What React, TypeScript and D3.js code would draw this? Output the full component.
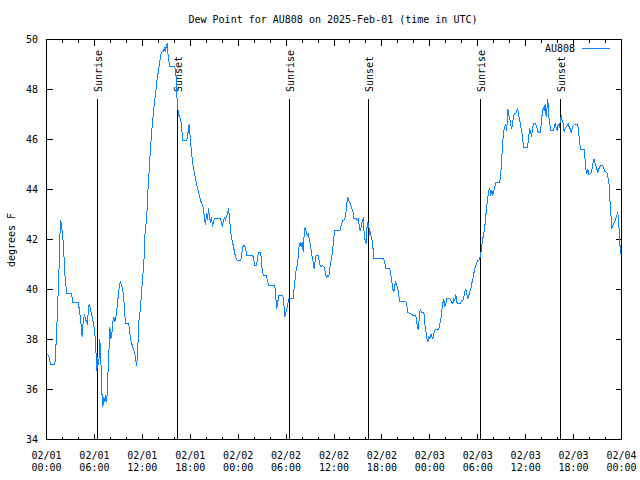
import React from 'react';
import * as d3 from 'd3';

const TITLE = 'Dew Point for AU808 on 2025-Feb-01 (time in UTC)';
const Y_LABEL = 'degrees F';
const SERIES_NAME = 'AU808';
const START_MS = Date.UTC(2025, 1, 1, 0, 0);
const SPAN_HOURS = 72;
const yDomain: [number, number] = [34, 50];
const yTickValues = [34, 36, 38, 40, 42, 44, 46, 48, 50];

const sunEvents: { label: string; hour: number }[] = [
  { label: 'Sunrise', hour: 6.43 },
  { label: 'Sunset', hour: 16.35 },
  { label: 'Sunrise', hour: 30.45 },
  { label: 'Sunset', hour: 40.37 },
  { label: 'Sunrise', hour: 54.4 },
  { label: 'Sunset', hour: 64.4 },
];

// [hours since 2025-02-01 00:00 UTC, dew point °F]
const readings: [number, number][] = [
  [0.1, 37.4], [0.29, 37.33], [0.5, 37.0], [1.04, 37.0], [1.13, 37.36], [1.25, 38.2], [1.38, 39.16],
  [1.47, 40.0], [1.59, 41.0], [1.67, 42.16], [1.79, 42.76], [1.97, 42.3], [2.13, 41.76], [2.29, 40.64],
  [2.42, 40.16], [2.54, 39.83], [3.13, 39.83], [3.29, 39.5], [3.97, 39.5], [4.09, 39.24], [4.22, 38.9],
  [4.35, 38.56], [4.47, 38.1], [4.6, 38.76], [4.76, 39.0], [4.88, 38.8], [5.13, 38.64], [5.26, 39.3],
  [5.38, 39.43], [5.51, 39.2], [5.72, 38.9], [5.92, 38.56], [6.14, 37.96], [6.22, 37.3], [6.3, 36.76],
  [6.42, 37.3], [6.55, 37.0], [6.67, 38.03], [6.8, 37.3], [6.92, 35.96], [7.05, 35.3], [7.18, 35.7],
  [7.3, 35.5], [7.43, 35.76], [7.55, 35.5], [7.68, 36.56], [7.8, 37.36], [7.93, 38.5], [8.05, 38.03],
  [8.18, 38.2], [8.3, 38.7], [8.43, 38.9], [8.55, 38.7], [8.68, 38.9], [8.8, 39.16], [8.93, 39.56],
  [9.05, 39.96], [9.23, 40.3], [9.39, 40.16], [9.55, 40.0], [9.68, 39.63], [9.8, 39.03], [9.89, 38.63],
  [10.31, 38.63], [10.43, 38.23], [10.61, 37.9], [10.81, 37.7], [10.98, 37.5], [11.14, 37.3], [11.27, 36.96],
  [11.39, 37.3], [11.56, 38.7], [11.73, 39.16], [11.86, 39.7], [11.98, 40.23], [12.11, 40.76], [12.23, 41.3],
  [12.31, 42.12], [12.43, 42.52], [12.56, 42.92], [12.68, 43.85], [12.81, 44.52], [12.93, 45.19], [13.06, 45.85],
  [13.19, 46.39], [13.31, 46.79], [13.44, 47.25], [13.56, 47.59], [13.69, 47.92], [13.81, 48.32], [13.94, 48.59],
  [14.06, 48.85], [14.19, 49.12], [14.31, 49.39], [14.49, 49.52], [14.61, 49.52], [14.74, 49.65], [14.86, 49.52],
  [14.99, 49.72], [15.11, 49.85], [15.19, 49.5], [15.31, 49.19], [15.4, 48.92], [16.07, 48.92], [16.15, 48.65],
  [16.24, 48.5], [16.32, 47.85], [16.37, 47.45], [16.53, 46.99], [16.69, 46.9], [16.87, 46.65], [17.0, 46.19],
  [17.07, 45.96], [17.57, 45.96], [17.69, 46.19], [17.78, 46.45], [17.87, 46.63], [17.94, 46.3], [18.03, 45.9],
  [18.16, 45.52], [18.28, 45.12], [18.41, 44.85], [18.53, 44.65], [18.66, 44.45], [18.78, 44.25], [18.91, 44.05],
  [19.03, 43.92], [19.16, 43.72], [19.28, 43.59], [19.41, 43.45], [19.53, 43.4], [19.66, 43.19], [19.78, 42.85],
  [19.91, 42.59], [20.03, 43.05], [20.16, 42.8], [20.29, 43.25], [20.41, 42.85], [20.54, 42.72], [20.66, 42.9],
  [20.79, 42.52], [20.91, 42.72], [21.04, 42.85], [21.79, 42.85], [21.91, 42.65], [22.04, 42.52], [22.17, 42.79],
  [22.29, 42.85], [22.41, 42.79], [22.54, 42.92], [22.67, 43.05], [22.79, 43.25], [23.0, 42.56], [23.13, 42.16],
  [23.25, 41.96], [23.42, 41.7], [23.58, 41.43], [23.76, 41.23], [23.88, 41.16], [24.33, 41.16], [24.51, 41.56],
  [24.63, 41.76], [24.83, 41.74], [25.01, 41.5], [25.08, 41.36], [25.83, 41.36], [26.01, 41.1], [26.08, 40.96],
  [26.3, 40.96], [26.42, 41.23], [26.55, 41.5], [26.8, 41.5], [26.92, 41.16], [27.01, 40.76], [27.17, 40.56],
  [27.51, 40.56], [27.67, 40.36], [27.8, 40.16], [28.59, 40.16], [28.71, 39.7], [28.84, 39.23], [28.96, 39.5],
  [29.09, 39.76], [29.59, 39.76], [29.72, 39.43], [29.84, 38.89], [29.97, 39.09], [30.09, 39.23], [30.22, 39.43],
  [30.34, 39.63], [30.89, 39.63], [31.02, 40.1], [31.14, 40.43], [31.27, 40.83], [31.39, 40.96], [31.52, 41.3],
  [31.64, 41.76], [31.77, 41.9], [31.89, 41.7], [32.02, 41.9], [32.14, 41.5], [32.27, 42.23], [32.39, 42.5],
  [32.52, 42.3], [32.64, 42.16], [32.77, 42.23], [32.89, 42.03], [33.02, 41.83], [33.14, 41.56], [33.27, 41.3],
  [33.39, 41.1], [33.52, 40.83], [33.64, 41.16], [33.77, 41.36], [34.02, 41.36], [34.14, 41.16], [34.27, 40.96],
  [34.4, 40.9], [34.52, 40.96], [34.77, 40.9], [34.97, 40.56], [35.1, 40.47], [35.22, 40.56], [35.35, 40.5],
  [35.47, 40.83], [35.6, 41.1], [35.72, 41.3], [35.85, 41.63], [35.98, 42.1], [36.1, 42.36], [36.73, 42.36],
  [36.85, 42.5], [36.98, 42.63], [37.1, 42.76], [37.23, 42.76], [37.35, 42.83], [37.48, 43.03], [37.6, 43.43],
  [37.73, 43.69], [37.85, 43.56], [37.98, 43.49], [38.1, 43.36], [38.23, 43.23], [38.36, 43.16], [38.48, 42.83],
  [38.82, 42.83], [38.91, 42.76], [39.03, 42.83], [39.16, 42.56], [39.28, 42.36], [39.41, 42.5], [39.53, 42.76],
  [39.66, 42.83], [39.73, 42.5], [39.82, 42.03], [39.95, 41.96], [40.03, 41.83], [40.11, 42.43], [40.24, 42.69],
  [40.36, 42.56], [40.45, 42.23], [40.57, 42.3], [40.66, 42.1], [40.79, 41.96], [40.91, 41.56], [40.99, 41.23],
  [42.24, 41.23], [42.37, 41.03], [42.49, 40.83], [42.99, 40.83], [43.11, 40.63], [43.24, 40.3], [43.36, 40.03],
  [43.49, 39.9], [43.61, 40.17], [43.74, 40.3], [43.86, 40.17], [43.99, 40.03], [44.11, 39.76], [44.24, 39.53],
  [44.99, 39.53], [45.12, 39.36], [45.24, 39.09], [45.45, 39.05], [45.71, 39.0], [45.92, 38.96], [46.17, 38.96],
  [46.29, 38.9], [46.42, 38.56], [46.54, 38.39], [46.67, 38.8], [46.79, 39.23], [46.96, 39.1], [47.25, 39.1],
  [47.37, 38.63], [47.5, 38.36], [47.62, 38.03], [47.75, 37.93], [47.87, 38.1], [48.0, 38.03], [48.12, 38.23],
  [48.25, 38.1], [48.37, 38.03], [48.5, 38.23], [48.62, 38.36], [48.75, 38.41], [49.12, 38.41], [49.25, 38.63],
  [49.37, 38.76], [49.5, 39.16], [49.62, 39.43], [49.75, 39.63], [49.87, 39.29], [50.0, 39.43], [50.12, 39.63],
  [50.5, 39.63], [50.62, 39.56], [50.75, 39.5], [50.87, 39.43], [51.0, 39.63], [51.12, 39.56], [51.25, 39.83],
  [51.37, 39.49], [51.5, 39.43], [51.75, 39.43], [51.87, 39.49], [52.0, 39.56], [52.12, 39.56], [52.25, 39.69],
  [52.37, 39.89], [52.5, 40.03], [52.62, 39.83], [52.75, 39.63], [52.87, 39.76], [53.0, 39.89], [53.13, 40.03],
  [53.25, 40.23], [53.38, 40.43], [53.5, 40.63], [53.63, 40.83], [53.75, 40.96], [53.88, 41.1], [54.0, 41.16],
  [54.13, 41.16], [54.25, 41.23], [54.38, 41.43], [54.5, 41.76], [54.63, 42.03], [54.75, 42.23], [54.88, 42.49],
  [55.01, 42.96], [55.13, 43.36], [55.26, 43.69], [55.38, 43.96], [55.51, 44.03], [55.63, 43.76], [55.76, 43.96],
  [55.88, 43.76], [56.01, 43.96], [56.13, 44.09], [56.26, 44.29], [56.76, 44.29], [56.88, 44.63], [57.01, 45.29],
  [57.13, 45.89], [57.26, 46.36], [57.38, 46.5], [57.51, 46.63], [57.63, 46.36], [57.76, 47.23], [57.88, 46.96],
  [58.01, 46.83], [58.13, 46.56], [58.26, 46.43], [58.38, 46.7], [58.51, 46.96], [58.63, 47.03], [58.76, 47.03],
  [58.88, 47.13], [59.01, 47.23], [59.13, 46.96], [59.26, 46.76], [59.34, 46.63], [59.47, 46.36], [59.6, 46.16],
  [59.72, 45.69], [60.22, 45.69], [60.35, 45.96], [60.47, 46.43], [60.6, 46.36], [60.73, 46.09], [60.85, 46.43],
  [60.98, 46.63], [61.23, 46.63], [61.35, 46.56], [61.48, 46.36], [61.6, 46.29], [61.82, 46.29], [61.95, 46.63],
  [62.07, 47.03], [62.2, 47.29], [62.32, 47.16], [62.45, 47.43], [62.57, 46.9], [62.7, 47.36], [62.77, 47.63],
  [62.9, 46.9], [63.02, 46.63], [63.15, 46.36], [63.45, 46.36], [63.57, 46.5], [63.7, 46.63], [63.82, 46.47],
  [63.95, 46.36], [64.07, 46.63], [64.2, 46.5], [64.32, 46.69], [64.45, 46.96], [64.57, 46.76], [64.7, 46.63],
  [64.82, 46.29], [64.95, 46.43], [65.07, 46.5], [65.2, 46.56], [65.32, 46.63], [65.45, 46.5], [65.57, 46.43],
  [65.7, 46.29], [65.82, 46.43], [65.95, 46.56], [66.07, 46.59], [66.53, 46.59], [66.65, 46.23], [66.78, 45.83],
  [66.9, 45.59], [67.33, 45.59], [67.41, 45.29], [67.53, 44.83], [67.66, 44.63], [67.78, 44.83], [67.91, 44.6],
  [68.16, 44.63], [68.28, 44.76], [68.41, 45.03], [68.53, 45.23], [68.66, 45.1], [68.78, 44.96], [68.91, 44.83],
  [69.03, 44.69], [69.16, 44.83], [69.28, 44.9], [69.41, 44.96], [69.66, 44.96], [69.78, 44.83], [69.91, 44.73],
  [70.16, 44.69], [70.28, 44.49], [70.41, 44.36], [70.53, 43.69], [70.66, 43.09], [70.78, 42.43], [70.91, 42.56],
  [71.03, 42.63], [71.16, 42.7], [71.28, 42.83], [71.41, 42.96], [71.53, 43.09], [71.66, 42.63], [71.78, 41.96],
  [71.87, 41.43],
];

const FONT = '"DejaVu Sans Mono", "Liberation Mono", monospace';
const LINE_COLOR = '#0a84ff';

export default function App() {
  const left = 46.5, right = 621.5, top = 39.5, bottom = 439.5;
  const hourToDate = (h: number) => new Date(START_MS + h * 3600e3);
  const x = d3.scaleUtc().domain([hourToDate(0), hourToDate(SPAN_HOURS)]).range([left, right]);
  const y = d3.scaleLinear().domain(yDomain).range([bottom, top]);
  const line = d3
    .line<[number, number]>()
    .x((d) => x(hourToDate(d[0])))
    .y((d) => y(d[1]));

  const majorTicks = x.ticks(d3.utcHour.every(6)!);
  const minorTicks = x.ticks(d3.utcHour.every(2)!);
  const fmtDay = d3.utcFormat('%m/%d');
  const fmtTime = d3.utcFormat('%H:%M');
  const snap = (v: number) => Math.round(v - 0.5) + 0.5;

  return (
    <svg
      width={640}
      height={480}
      style={{ position: 'absolute', left: 0, top: 0, background: '#fff' }}
      fontFamily={FONT}
      fontSize={10}
    >
      <rect x={0} y={0} width={640} height={480} fill="#fff" />
      <text x={333} y={23} textAnchor="middle" fill="#000">{TITLE}</text>
      <text
        transform={`translate(11,240) rotate(-90)`}
        textAnchor="middle"
        dominantBaseline="central"
        fill="#000"
      >
        {Y_LABEL}
      </text>

      {/* y ticks */}
      {yTickValues.map((v) => {
        const yy = snap(y(v));
        return (
          <g key={`y${v}`}>
            <line x1={left} x2={left + 6} y1={yy} y2={yy} stroke="#000" shapeRendering="crispEdges" />
            <line x1={right - 6} x2={right} y1={yy} y2={yy} stroke="#000" shapeRendering="crispEdges" />
            <text x={38} y={yy} textAnchor="end" dominantBaseline="central" fill="#000">{v}</text>
          </g>
        );
      })}

      {/* x ticks */}
      {minorTicks.map((t, i) => {
        const xx = snap(x(t));
        const isMajor = t.getUTCHours() % 6 === 0;
        const len = isMajor ? 6 : 3;
        return (
          <g key={`xm${i}`}>
            <line x1={xx} x2={xx} y1={bottom} y2={bottom - len} stroke="#000" shapeRendering="crispEdges" />
            <line x1={xx} x2={xx} y1={top} y2={top + len} stroke="#000" shapeRendering="crispEdges" />
          </g>
        );
      })}
      {majorTicks.map((t, i) => {
        const xx = x(t);
        return (
          <g key={`xl${i}`}>
            <text x={xx} y={455} textAnchor="middle" dominantBaseline="central" fill="#000">{fmtDay(t)}</text>
            <text x={xx} y={467} textAnchor="middle" dominantBaseline="central" fill="#000">{fmtTime(t)}</text>
          </g>
        );
      })}

      {/* sunrise / sunset markers */}
      {sunEvents.map((e, i) => {
        const xx = snap(x(hourToDate(e.hour)));
        return (
          <g key={`s${i}`}>
            <line x1={xx} x2={xx} y1={bottom} y2={99} stroke="#000" shapeRendering="crispEdges" />
            <text
              transform={`translate(${xx + 1},92) rotate(-90)`}
              textAnchor="start"
              dominantBaseline="central"
              fill="#000"
            >
              {e.label}
            </text>
          </g>
        );
      })}

      {/* data line */}
      <path
        d={line(readings) ?? ''}
        fill="none"
        stroke={LINE_COLOR}
        strokeWidth={1}
        shapeRendering="crispEdges"
      />

      {/* legend */}
      <text x={575} y={48} textAnchor="end" dominantBaseline="central" fill="#000">{SERIES_NAME}</text>
      <line x1={582} x2={610} y1={48.5} y2={48.5} stroke={LINE_COLOR} shapeRendering="crispEdges" />

      {/* border */}
      <rect
        x={left}
        y={top}
        width={right - left}
        height={bottom - top}
        fill="none"
        stroke="#000"
        shapeRendering="crispEdges"
      />
    </svg>
  );
}
